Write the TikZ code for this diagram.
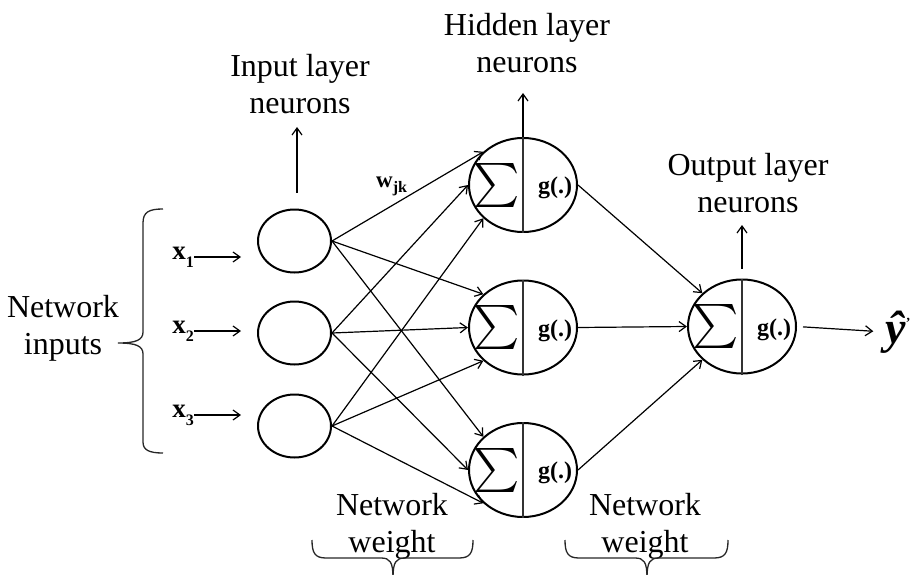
\documentclass[tikz,border=0pt]{standalone}
\usepackage{fontspec}
\setmainfont{Liberation Serif}
\usepackage{amsmath}
\usepackage{graphicx}
\usetikzlibrary{shapes.geometric,arrows.meta,calc}

\begin{document}
\begin{tikzpicture}[x=1pt,y=-1pt,
  lbl/.style={font=\fontsize{32}{37}\selectfont, align=center, inner sep=0pt},
  inneuron/.style={ellipse, draw, line width=2pt, minimum width=73pt, minimum height=63pt, inner sep=0pt},
  neuron/.style={ellipse, draw, line width=2pt, minimum width=108pt, minimum height=94pt, inner sep=0pt},
  arr/.style={line width=1.2pt, -{Straight Barb[length=7pt,width=10pt]}},
  divider/.style={line width=1.3pt, black!80},
  brc/.style={line width=1.3pt, black!85},
  sig/.style={inner sep=0pt},
  gfun/.style={font=\fontsize{24}{24}\selectfont\bfseries, inner sep=0pt},
  xin/.style={inner sep=0pt, anchor=east}
]
\useasboundingbox (0,0) rectangle (915,575);

% neurons
\node[inneuron] (in1) at (294.5,241) {};
\node[inneuron] (in2) at (294.5,333) {};
\node[inneuron] (in3) at (294.5,426) {};
\node[neuron] (h1) at (523,185) {};
\node[neuron] (h2) at (523,327.5) {};
\node[neuron] (h3) at (523,470) {};
\node[neuron] (out) at (742,326.5) {};

% summation / activation halves
\foreach \n in {h1,h2,h3,out}{
  \draw[divider] (\n.north) -- (\n.south);
  \node[sig] (\n-sum) at ($(\n.center)+(-26,0)$) {\scalebox{4.4}{$\sum$}};
  \node[gfun] (\n-g) at ($(\n.center)+(32,3)$) {g(.)};
}

% input signals
\node[xin] (x1) at (194,257) {\fontsize{27}{27}\selectfont\textbf{x}\raisebox{-8pt}{\fontsize{16}{16}\selectfont\textbf{1}}};
\node[xin] (x2) at (194,331) {\fontsize{27}{27}\selectfont\textbf{x}\raisebox{-8pt}{\fontsize{16}{16}\selectfont\textbf{2}}};
\node[xin] (x3) at (194,415) {\fontsize{27}{27}\selectfont\textbf{x}\raisebox{-8pt}{\fontsize{16}{16}\selectfont\textbf{3}}};
\foreach \k in {1,2,3}{
  \draw[arr, shorten >=16pt] (x\k.east) -- (x\k.east -| in\k.west);
}

% input -> hidden weights
\foreach \j/\a in {1/140,2/180,3/220}{
  \foreach \i in {1,2,3}{
    \draw[arr] (in\j.east) -- (h\i.\a);
  }
}
\node[anchor=base west, inner sep=0pt] (wjk) at (376,187)
  {\fontsize{23}{23}\selectfont\textbf{w}\raisebox{-5pt}{\fontsize{16}{16}\selectfont\textbf{jk}}};

% hidden -> output
\draw[arr] (h1.east) -- (out.140);
\draw[arr] (h2.east) -- (out.180);
\draw[arr] (h3.east) -- (out.220);

% network output
\node[inner sep=0pt] (yhat) at (898,332)
  {\fontsize{46}{46}\selectfont\bfseries\itshape \^y\raisebox{16pt}{\fontsize{14}{14}\selectfont\upshape '}};
\draw[arr, shorten <=6pt, shorten >=12pt] (out.east) -- (yhat.west);

% layer labels
\node[lbl] (inlbl) at (300,84) {Input layer\\neurons};
\node[lbl] (hidlbl) at (527,43) {Hidden layer\\neurons};
\node[lbl] (outlbl) at (748,183) {Output layer\\neurons};
\coordinate (inup) at (297,127);
\coordinate (hidup) at (523,93);
\coordinate (outup) at (742,225);
\draw[arr, shorten <=16pt] (in1.north -| inup) -- (inup);
\draw[arr] (h1.north) -- (hidup);
\draw[arr, shorten <=10pt] (out.north) -- (outup);

% network inputs brace
\node[lbl] (netin) at (63,328) {Network\\inputs};
\draw[brc] (163,209) .. controls (149,209) and (143,212) .. (143,223) -- (143,332)
  .. controls (143,340) and (136,343) .. (118,343)
  .. controls (136,343) and (143,346) .. (143,354) -- (143,442)
  .. controls (143,450) and (149,453) .. (163,453);

% network weight braces
\node[lbl] (nw1) at (392,526) {Network\\weight};
\node[lbl] (nw2) at (645,526) {Network\\weight};
\draw[brc] (312,540) .. controls (312,553) and (315,558) .. (326,558) -- (381,558)
  .. controls (390,558) and (393,562) .. (393,578);
\draw[brc] (473,540) .. controls (473,553) and (470,558) .. (459,558) -- (405,558)
  .. controls (396,558) and (393,562) .. (393,578);
\draw[brc] (565,540) .. controls (565,553) and (568,558) .. (579,558) -- (635,558)
  .. controls (644,558) and (647,562) .. (647,578);
\draw[brc] (728,540) .. controls (728,553) and (725,558) .. (714,558) -- (659,558)
  .. controls (650,558) and (647,562) .. (647,578);
\end{tikzpicture}
\end{document}
